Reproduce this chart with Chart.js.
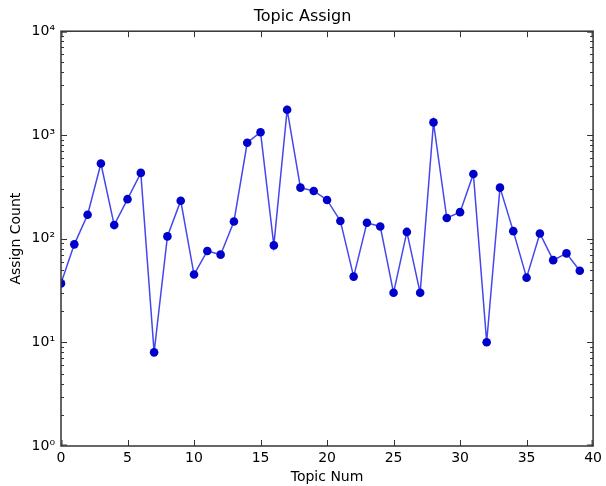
<!DOCTYPE html>
<html>
<head>
<meta charset="utf-8">
<script src="https://cdn.jsdelivr.net/npm/chart.js@4/dist/chart.umd.min.js"></script>
<style>
  html, body { margin: 0; padding: 0; background: #fff; }
  #wrap { width: 606px; height: 486px; }
</style>
</head>
<body>
<div id="wrap"><canvas id="chart-topics" width="606" height="486"></canvas></div>
<script>
// topic index 0..39 and how many docs got assigned to each
const topicNums = [0, 1, 2, 3, 4, 5, 6, 7, 8, 9, 10, 11, 12, 13, 14, 15, 16, 17, 18, 19,
    20, 21, 22, 23, 24, 25, 26, 27, 28, 29, 30, 31, 32, 33, 34, 35, 36, 37, 38, 39];
const assignCounts = [37, 88, 170, 530, 135, 240, 430, 8, 105, 232, 45, 76, 70, 146, 840, 1060, 86, 1750, 310, 288,
    236, 148, 43, 142, 131, 30, 116, 30, 1320, 158, 180, 420, 10, 310, 118, 42, 112, 62, 72, 49];
const xTicks = [0, 5, 10, 15, 20, 25, 30, 35, 40];
const yDecades = [1, 10, 100, 1000, 10000];
const sup = { 0: '⁰', 1: '¹', 2: '²', 3: '³', 4: '⁴' };

const font = { family: 'DejaVu Sans', size: 14 };

// matplotlib-ish inward ticks on all four sides, plus the box
const frameTicks = {
    id: 'frameTicks',
    afterDraw(chart) {
        const { ctx, chartArea: a, scales } = chart;
        const x = scales.x, y = scales.y;
        const clampX = px => Math.min(Math.max(px, a.left + 1), a.right - 1);
        const clampY = py => Math.min(Math.max(py, a.top + 1), a.bottom - 1);
        ctx.save();
        ctx.strokeStyle = '#333';
        ctx.lineWidth = 1.5;
        ctx.strokeRect(a.left, a.top, a.right - a.left, a.bottom - a.top);
        ctx.lineWidth = 1;
        ctx.beginPath();
        xTicks.forEach(v => {
            const px = clampX(Math.round(x.getPixelForValue(v)) + 0.5);
            ctx.moveTo(px, a.bottom); ctx.lineTo(px, a.bottom - 6);
            ctx.moveTo(px, a.top); ctx.lineTo(px, a.top + 6);
        });
        yDecades.forEach(d => {
            const py = clampY(Math.round(y.getPixelForValue(d)) + 0.5);
            ctx.moveTo(a.left, py); ctx.lineTo(a.left + 6, py);
            ctx.moveTo(a.right, py); ctx.lineTo(a.right - 6, py);
            if (d === 10000) return;
            for (let m = 2; m <= 9; m++) {
                const pm = Math.round(y.getPixelForValue(d * m)) + 0.5;
                ctx.moveTo(a.left, pm); ctx.lineTo(a.left + 3, pm);
                ctx.moveTo(a.right, pm); ctx.lineTo(a.right - 3, pm);
            }
        });
        ctx.stroke();
        ctx.restore();
    },
};

const ctx = document.getElementById('chart-topics').getContext('2d');
new Chart(ctx, {
    type: 'line',
    data: {
        labels: topicNums,
        datasets: [{
            data: topicNums.map((t, i) => ({ x: t, y: assignCounts[i] })),
            borderColor: '#4646ee',
            borderWidth: 1.5,
            pointBackgroundColor: '#0000cc',
            pointBorderColor: '#0000cc',
            pointRadius: 4.3,
            pointBorderWidth: 0,
            tension: 0,
            fill: false,
        }],
    },
    options: {
        responsive: false,
        animation: false,
        layout: { padding: { left: 8, right: 9, top: 0, bottom: 0 } },
        plugins: {
            legend: { display: false },
            tooltip: { enabled: false },
            title: {
                display: true,
                text: 'Topic Assign',
                color: '#000',
                font: { family: 'DejaVu Sans', size: 16, weight: 'normal', lineHeight: 1.2 },
                padding: { top: 7, bottom: 5 },
            },
        },
        scales: {
            x: {
                type: 'linear',
                min: 0,
                max: 40,
                grid: { display: false, drawTicks: false },
                border: { display: false },
                ticks: {
                    stepSize: 5,
                    color: '#000',
                    font,
                    padding: 4,
                    maxRotation: 0,
                },
                title: {
                    display: true,
                    text: 'Topic Num',
                    color: '#000',
                    font: { family: 'DejaVu Sans', size: 14 },
                    padding: { top: 0, bottom: 0 },
                },
                afterFit(scale) { scale.height = 40; },
            },
            y: {
                type: 'logarithmic',
                min: 1,
                max: 10000,
                grid: { display: false, drawTicks: false },
                border: { display: false },
                ticks: {
                    color: '#000',
                    font,
                    padding: 6,
                    autoSkip: false,
                    callback(val) {
                        const e = Math.log10(val);
                        if (Math.abs(e - Math.round(e)) > 1e-9) return '';
                        return '10' + sup[Math.round(e)];
                    },
                },
                title: {
                    display: true,
                    text: 'Assign Count',
                    color: '#000',
                    font: { family: 'DejaVu Sans', size: 14 },
                    padding: { top: 0, bottom: 4 },
                },
                afterFit(scale) { scale.width = 53; },
            },
        },
    },
    plugins: [frameTicks],
});
</script>
</body>
</html>
